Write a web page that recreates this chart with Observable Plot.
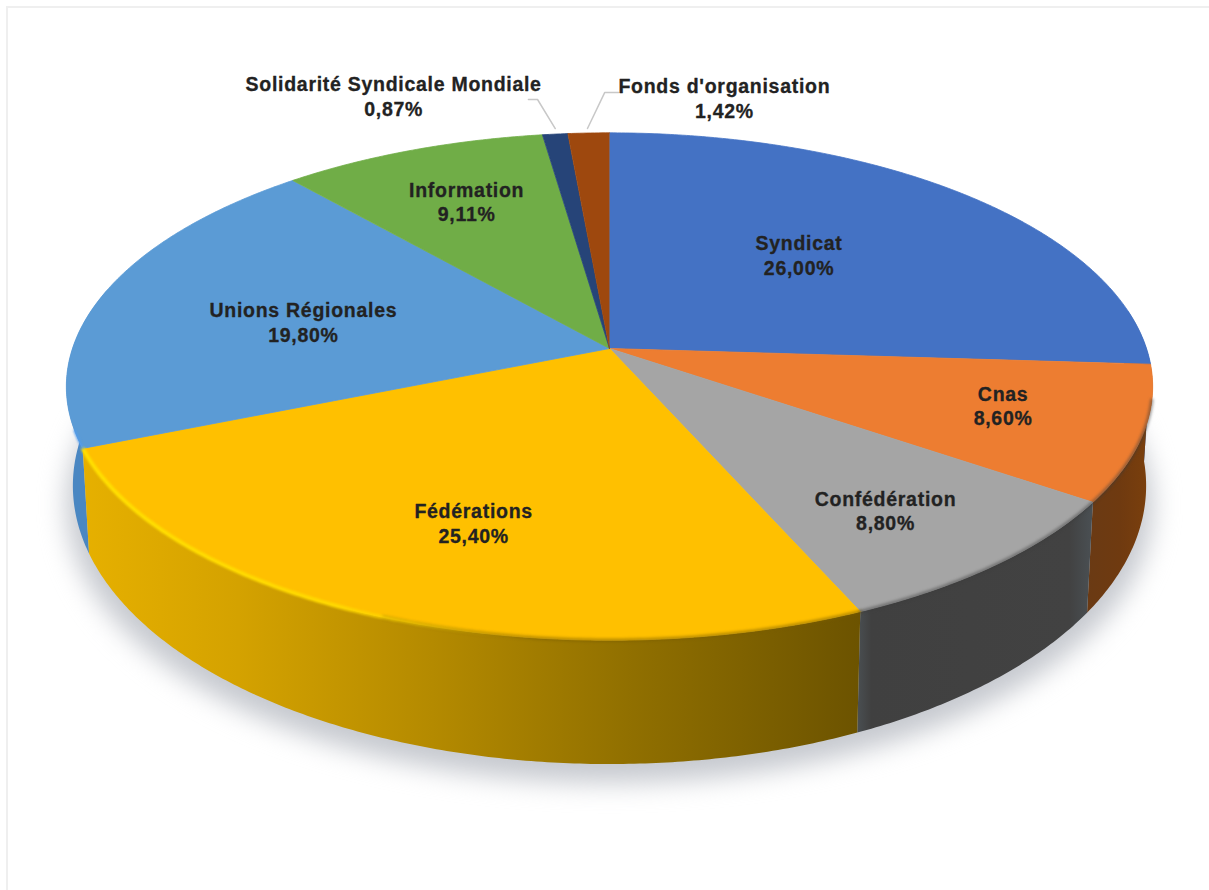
<!DOCTYPE html>
<html lang="fr">
<head>
<meta charset="utf-8">
<title>Répartition</title>
<script src="https://cdn.jsdelivr.net/npm/d3@7"></script>
<script src="https://cdn.jsdelivr.net/npm/@observablehq/plot@0.6"></script>
<style>
  html, body { margin: 0; background: #fff; }
  #chart { position: relative; width: 1209px; height: 890px; overflow: hidden; }
  #chart svg { display: block; }
  #chart svg text { letter-spacing: 0.72px; }
  #edge { position: absolute; left: 6px; top: 6px; right: 0; bottom: 0;
          border-left: 2px solid #efefef; border-top: 2px solid #efefef; }
</style>
</head>
<body>
<div id="chart"><div id="edge"></div></div>
<script>
// Budget shares, in percent, clockwise from twelve o'clock.
const names = ["Syndicat", "Cnas", "Confédération", "Fédérations", "Unions Régionales",
               "Information", "Solidarité Syndicale Mondiale", "Fonds d'organisation"];
const shares = [26.00, 8.60, 8.80, 25.40, 19.80, 9.11, 0.87, 1.42];
const colors = ["#4472c4", "#ed7d31", "#a5a5a5", "#ffc000", "#5b9bd5", "#70ad47", "#264478", "#9e480e"];

// Label anchors and leader lines, in disc units.
const labelX = [0.353, 0.733, 0.514, -0.253, -0.570, -0.266, -0.402, 0.214];
const labelY = [-0.379, 0.229, 0.651, 0.703, -0.109, -0.594, -1.020, -1.012];
const leaderSolidarite = [[-0.151, -1.004], [-0.134, -1.004], [-0.101, -0.887]];
const leaderFonds = [[0.017, -1.032], [-0.009, -1.032], [-0.041, -0.887]];

// Perspective of the tilted disc and of the lower rim.
const tilt = 0.15;
const rimScaleX = 0.988;
const rimScaleY = 1.097;
const rimDrop = 0.385;
const rad = d => d * Math.PI / 180;

function topPoint(deg) {
  const u = Math.sin(rad(deg)), v = -Math.cos(rad(deg)), w = 1 - tilt * v;
  return {x: u / w, y: v / w};
}
function rimPoint(deg) {
  const p = topPoint(deg);
  return {x: p.x * rimScaleX, y: p.y * rimScaleY + rimDrop};
}
function arc(fn, a, b) {
  const n = Math.max(2, Math.ceil(Math.abs(b - a) * 2));
  return d3.range(n + 1).map(i => fn(a + (b - a) * i / n));
}

// Cumulative start and end angles.
let total = 0;
const slices = names.map((name, i) => {
  const start = total * 3.6;
  total += shares[i];
  return {name, color: colors[i], start, end: total * 3.6};
});

const wedge = s => [{x: 0, y: 0}, ...arc(topPoint, s.start, s.end)];
const wall = (a, b) => [...arc(topPoint, a, b), ...arc(rimPoint, b, a)];

// Gradients for the shaded walls.
function defs() {
  const d = d3.create("svg:defs");
  const gradient = (id, stops) => {
    const g = d.append("linearGradient").attr("id", id);
    for (const [o, c, a] of stops) {
      g.append("stop").attr("offset", o).attr("stop-color", c).attr("stop-opacity", a ?? 1);
    }
  };
  gradient("wallGold", [[0, "#e6b000"], [0.2, "#d4a200"], [0.45, "#b48a00"], [0.7, "#917000"], [1, "#6c5300"]]);
  gradient("wallCopper", [[0, "#6a3a14"], [0.5, "#6f3a10"], [1, "#7c400c"]]);
  gradient("wallGrey", [[0, "#4a4f52"], [0.06, "#404040"], [0.9, "#424242"], [1, "#4a5054"]]);
  gradient("wallBlue", [[0, "#4a87c2"], [1, "#4a87c2"]]);
  gradient("glintGold", [[0, "#ffdf00"], [0.55, "#ffd800"], [0.85, "#ffd000", 0.25], [1, "#ffc000", 0]]);
  return d.node();
}

const fill = (data, color, extra = {}) =>
  Plot.line(data, {x: "x", y: "y", fill: color, stroke: "none", ...extra});

const marks = [
  defs,
  // Soft contact shadow beneath the disc.
  fill(arc(p => { const r = rimPoint(p); return {x: r.x * 1.012, y: r.y + 0.075}; }, 0, 360),
       "#c6c9cf", {imageFilter: "blur(13px)"}),
  // Visible outer walls, back to front.
  fill(wall(slices[0].start + 81, slices[0].end), "#2f5597"),
  fill(wall(slices[3].end, 284), "url(#wallBlue)"),
  fill(wall(slices[1].start, slices[1].end), "url(#wallCopper)"),
  fill(wall(slices[2].start, slices[2].end), "url(#wallGrey)"),
  fill(wall(slices[3].start, slices[3].end), "url(#wallGold)"),
  // Top face; a hairline of the same colour closes the seams between wedges.
  ...slices.map(s => fill(wedge(s), s.color, {stroke: s.color, strokeWidth: 0.8})),
  // Soft shading where the grey and orange wedges meet their walls.
  Plot.line(arc(topPoint, slices[1].start + 8, slices[2].end), {
    x: "x", y: "y", stroke: "#3a3a3a", strokeWidth: 3, strokeOpacity: 0.55, imageFilter: "blur(1.5px)"
  }),
  Plot.line(arc(topPoint, slices[2].end, slices[3].start + 45), {
    x: "x", y: "y", stroke: "#7a5e00", strokeWidth: 3, strokeOpacity: 0.6, imageFilter: "blur(1.5px)"
  }),
  // Bevelled highlights along the front edge.
  Plot.line(arc(topPoint, slices[3].end - 0.2, slices[3].start + 30), {
    x: "x", y: "y", stroke: "url(#glintGold)", strokeWidth: 4, imageFilter: "blur(1px)"
  }),
  Plot.line(arc(topPoint, slices[3].end, slices[3].end + 4), {
    x: "x", y: "y", stroke: "#4f9cf0", strokeWidth: 2, imageFilter: "blur(0.8px)"
  }),
  // Leader lines for the two thin slices.
  ...[leaderSolidarite, leaderFonds].map(l =>
    Plot.line(l, {x: d => d[0], y: d => d[1], stroke: "#c8c8c8", strokeWidth: 1.5})),
  // Name and share of each slice.
  Plot.text(names, {
    x: (_, i) => labelX[i],
    y: (_, i) => labelY[i],
    text: (d, i) => `${d}\n${shares[i].toFixed(2).replace(".", ",")}%`,
    fontFamily: "'Liberation Sans', Arial, sans-serif",
    fontWeight: "bold",
    fontSize: 19.5,
    lineHeight: 1.26,
    fill: "#222222",
    stroke: "#222222",
    strokeWidth: 0.3,
    textAnchor: "middle",
    lineAnchor: "middle"
  })
];

const chart = Plot.plot({
  width: 1209,
  height: 890,
  margin: 0,
  style: {background: "transparent", overflow: "visible"},
  x: {domain: [-1, 1], range: [72, 1146], axis: null},
  y: {domain: [-1, 1], range: [100, 596], axis: null},
  marks
});
document.getElementById("chart").prepend(chart);
</script>
</body>
</html>
